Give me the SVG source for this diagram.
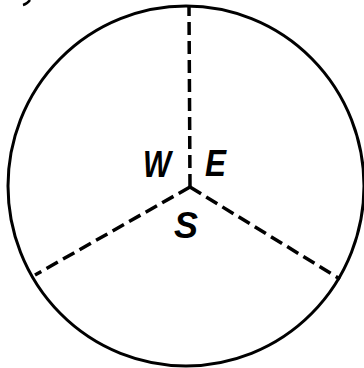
<svg xmlns="http://www.w3.org/2000/svg" width="364" height="368" viewBox="0 0 364 368">
<style>
.outline{fill:none;stroke:#000;stroke-width:3}
.spoke{fill:none;stroke:#000;stroke-width:3.5;stroke-dasharray:13 6}
.lbl{font-family:"Liberation Sans",Arial,sans-serif;font-style:italic;font-weight:bold;font-size:37px;fill:#000}
</style>
<rect width="364" height="368" fill="#fff"/>
<path d="M23 5 Q27 4 30 0" fill="none" stroke="#000" stroke-width="2.5"/>
<g id="circle"><ellipse class="outline" cx="186" cy="186" rx="178" ry="180"/></g>
<g id="connectors">
<path class="spoke" d="M190 187 L189 6"/>
<path class="spoke" d="M190 187 L35 275"/>
<path class="spoke" d="M190 187 L340 279"/>
</g>
<g id="W"><text class="lbl" x="143" y="177" textLength="28" lengthAdjust="spacingAndGlyphs">W</text></g>
<g id="E"><text class="lbl" x="205" y="176" textLength="21" lengthAdjust="spacingAndGlyphs">E</text></g>
<g id="S"><text class="lbl" x="174" y="238" textLength="24" lengthAdjust="spacingAndGlyphs">S</text></g>
</svg>
